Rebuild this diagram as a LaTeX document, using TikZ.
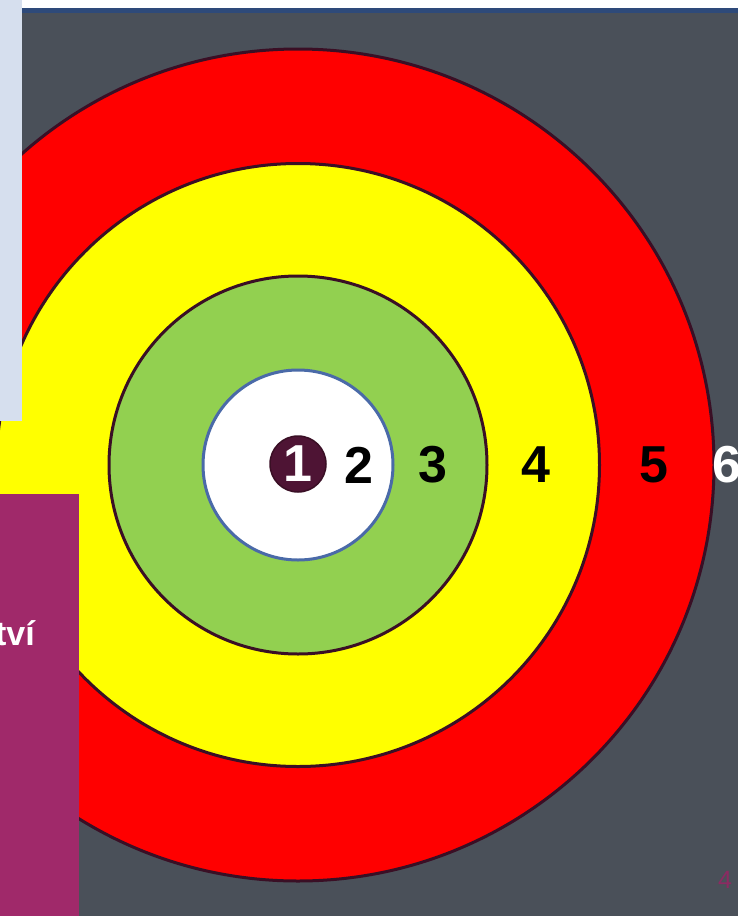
\documentclass[tikz,border=0pt]{standalone}
\usepackage{fontspec}
\setmainfont{Liberation Sans}
\usetikzlibrary{positioning}
\definecolor{slide}{HTML}{4A5059}
\definecolor{rim}{HTML}{3A0F25}
\definecolor{outer}{HTML}{FF0000}
\definecolor{middle}{HTML}{FFFF00}
\definecolor{inner}{HTML}{92D050}
\definecolor{coreline}{HTML}{4A6AA8}
\definecolor{plum}{HTML}{4E1434}
\definecolor{band}{HTML}{A0296A}
\definecolor{pagenum}{HTML}{8C2A62}
\definecolor{pale}{HTML}{D6DFEE}
\definecolor{navy}{HTML}{2E4A7A}
\tikzset{
  ring/.style={circle, draw=rim, line width=3pt, inner sep=0pt},
  score/.style={font=\fontsize{52}{52}\selectfont\bfseries, inner sep=0pt},
  caption/.style={font=\fontsize{34}{34}\selectfont\bfseries, text=white,
                  inner sep=0pt},
}

\begin{document}
\begin{tikzpicture}[x=1pt, y=-1pt]
\useasboundingbox (0,0) rectangle (738,916);
\clip (0,0) rectangle (738,916);
\fill[slide] (0,0) rectangle (738,916);

% ---- target rings ---------------------------------------------------
\node[ring, fill=outer,  minimum size=832pt] (r5) at (298,465) {};
\node[ring, fill=middle, minimum size=603pt] (r4) at (298,465) {};
\node[ring, fill=inner,  minimum size=378pt] (r3) at (298,465) {};
\node[ring, fill=white, draw=coreline, minimum size=190pt] (r2) at (298,465) {};

% ---- slide frame ----------------------------------------------------
\fill[white] (0,0) rectangle (738,8);
\fill[navy] (0,8) rectangle (738,13);
\fill[pale] (0,0) rectangle (22,421);
\fill[band] (0,494) rectangle (79,916);
\node[caption, anchor=base east] (word) at (35,645) {tví};
\node[font=\fontsize{25}{25}\selectfont, text=pagenum] (page) at (725,880) {4};

% ---- scores ---------------------------------------------------------
\node[circle, fill=plum, draw=rim, line width=1.5pt, minimum size=56pt,
      score, text=white] (s1) at (298,464) {1};
\node[score] (s2) at (359,465) {2};
\node[score] (s3) at (433,465) {3};
\node[score] (s4) at (536,465) {4};
\node[score] (s5) at (654,465) {5};
\node[score, text=white] (s6) at (727,465) {6};
\end{tikzpicture}
\end{document}
